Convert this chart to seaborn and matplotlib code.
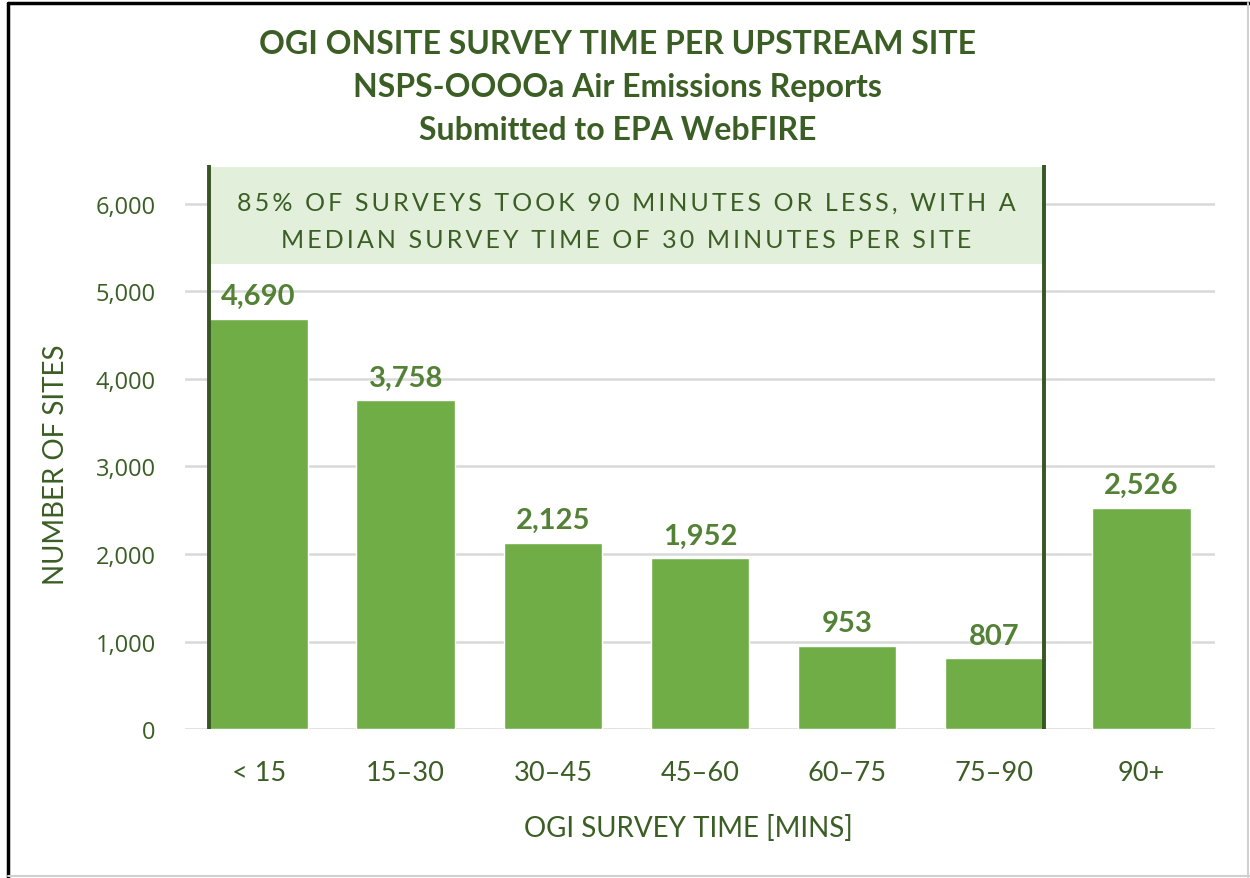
import matplotlib
matplotlib.use("Agg")
import matplotlib.pyplot as plt
import seaborn as sns
import pandas as pd
from matplotlib.lines import Line2D
from matplotlib.patches import Rectangle

categories = ["< 15", "15\u201330", "30\u201345", "45\u201360", "60\u201375", "75\u201390", "90+"]
sites = [4690, 3758, 2125, 1952, 953, 807, 2526]
y_ticks = [0, 1000, 2000, 3000, 4000, 5000, 6000]

title_lines = ["OGI ONSITE SURVEY TIME PER UPSTREAM SITE",
               "NSPS-OOOOa Air Emissions Reports",
               "Submitted to EPA WebFIRE"]
note_lines = ["85% OF SURVEYS TOOK 90 MINUTES OR LESS, WITH A",
              "MEDIAN SURVEY TIME OF 30 MINUTES PER SITE"]

sns.set_theme(style="white")
plt.rcParams['font.family'] = ['Lato', 'DejaVu Sans']

DARK = "#3B5E25"
BAR = "#70AD47"
LABEL = "#538135"

fig = plt.figure(figsize=(12.5, 8.79), dpi=100)
ax = fig.add_axes([0.148, 0.1695, 0.824, 0.6471])

df = pd.DataFrame({"cat": categories, "sites": sites})
bw = 0.67
sns.barplot(data=df, x="cat", y="sites", color=BAR, saturation=1, width=bw, ax=ax, zorder=3)

ax.set_ylim(0, 6500)
ax.set_xlim(-0.5, len(categories) - 0.5)
ax.set_yticks(y_ticks)
ax.set_yticklabels([f"{v:,}" for v in y_ticks], family=['Open Sans', 'DejaVu Sans'], fontsize=17, color=DARK)
ax.tick_params(axis='y', length=0, pad=21)
ax.tick_params(axis='x', length=0, pad=22, labelsize=19.5, labelcolor=DARK)
for v in y_ticks:
    ax.axhline(v, color="#D9D9D9", lw=1.8, zorder=1)
for s in ax.spines.values():
    s.set_visible(False)
ax.grid(False)

ax.set_xlabel("OGI SURVEY TIME [MINS]", fontsize=20, color=DARK)
ax.set_ylabel("NUMBER OF SITES", fontsize=20, color=DARK)
ax.xaxis.set_label_coords(0.489, -0.150)
ax.yaxis.set_label_coords(-0.113, 0.466)

# data labels
for i, v in enumerate(sites):
    ax.annotate(f"{v:,}", (i, v), xytext=(0, 7), textcoords="offset points",
                ha="center", va="bottom", fontsize=21, fontweight="bold", color=LABEL, zorder=5)

# highlight region: 85% box
x0 = -bw / 2
x1 = 5 + bw / 2
ax.add_patch(Rectangle((x0, 5314), x1 - x0, 6423 - 5314, facecolor="#E2EFDA", edgecolor="none", zorder=2))
ax.plot([x0, x0], [0, 6450], color="#375623", lw=2.8, zorder=6, solid_capstyle="butt")
ax.plot([x1, x1], [0, 6450], color="#375623", lw=2.8, zorder=6, solid_capstyle="butt")

hs = "\u2009"
for j, line in enumerate(note_lines):
    spaced = hs.join(line)
    ax.text((x0 + x1) / 2, 6020 - j * 430, spaced, ha="center", va="center",
            fontsize=18, color=DARK, zorder=7, family=['Lato', 'DejaVu Sans'])

# title
for j, line in enumerate(title_lines):
    fig.text(0.494, 1 - (45 + 43 * j) / 879, line, ha="center", va="center",
             fontsize=23, fontweight="bold", color=DARK)

# figure border
fig.add_artist(Line2D([0.0065, 0.0065], [0, 0.996], transform=fig.transFigure, color="black", lw=2.5))
fig.add_artist(Line2D([0.0065, 1], [0.996, 0.996], transform=fig.transFigure, color="black", lw=2.5))
fig.add_artist(Line2D([0.9985, 0.9985], [0, 0.996], transform=fig.transFigure, color="#D0D0D0", lw=1.5))
fig.add_artist(Line2D([0.0065, 1], [0.002, 0.002], transform=fig.transFigure, color="#D0D0D0", lw=1.5))

fig.savefig("out.png", dpi=100, facecolor="white")
